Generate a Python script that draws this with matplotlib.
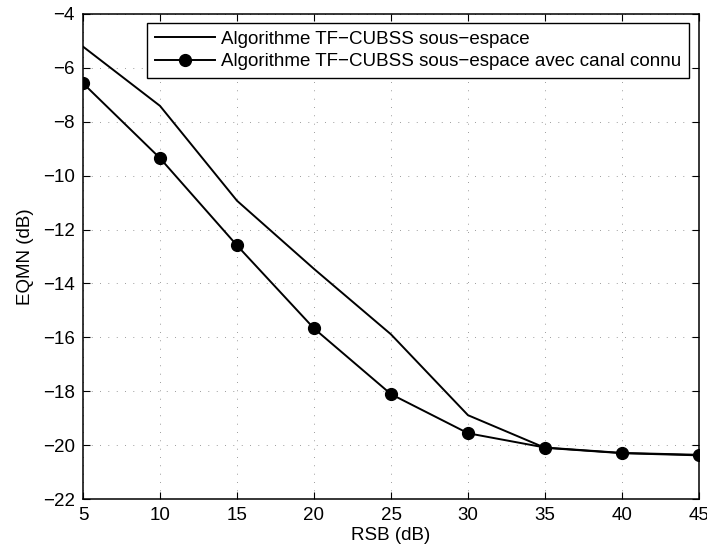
import numpy as np
import matplotlib
matplotlib.use('Agg')
import matplotlib.pyplot as plt

# data
rsb = [5, 10, 15, 20, 25, 30, 35, 40, 45]
eqmn_sub = [-5.21, -7.41, -10.93, -13.46, -15.89, -18.89, -20.10, -20.30, -20.38]
eqmn_canal = [-6.57, -9.35, -12.59, -15.67, -18.11, -19.56, -20.09, -20.29, -20.36]
labels = ['Algorithme TF\u2212CUBSS sous\u2212espace',
          'Algorithme TF\u2212CUBSS sous\u2212espace avec canal connu']
xticks = np.arange(5, 50, 5)
yticks = np.arange(-22, -3, 2)

plt.rcParams['font.family'] = ['Liberation Sans', 'DejaVu Sans']
plt.rcParams['font.size'] = 13.5
plt.rcParams['axes.unicode_minus'] = True

W, H = 707, 552
fig = plt.figure(figsize=(W / 100, H / 100), dpi=100)
ax = fig.add_axes([83 / W, 1 - 499 / H, (699 - 83) / W, (499 - 14) / H])

ax.plot(rsb, eqmn_sub, color='k', lw=1.4, label=labels[0])
ax.plot(rsb, eqmn_canal, color='k', lw=1.4, marker='o', ms=8.5, label=labels[1])

ax.set_xlim(5, 45)
ax.set_ylim(-22, -4)
ax.set_xticks(xticks)
ax.set_yticks(yticks)
ax.set_xlabel('RSB (dB)', labelpad=2)
ax.set_ylabel('EQMN (dB)', labelpad=6)

# matlab-like ticks and dotted grid
ax.tick_params(direction='in', length=5, width=0.8, top=True, right=True, pad=6)
ax.grid(True, color='0.25', lw=0.5, linestyle=(0, (1, 11)))
for s in ax.spines.values():
    s.set_linewidth(1.1)

leg = ax.legend(loc='upper left', bbox_to_anchor=(147 / W, 1 - 23 / H),
                bbox_transform=fig.transFigure, borderaxespad=0,
                fancybox=False, framealpha=1, edgecolor='k',
                handlelength=3.2, handletextpad=0.35, borderpad=0.4,
                labelspacing=0.3)
leg.get_frame().set_linewidth(1.0)

fig.savefig('out.png', dpi=100)
